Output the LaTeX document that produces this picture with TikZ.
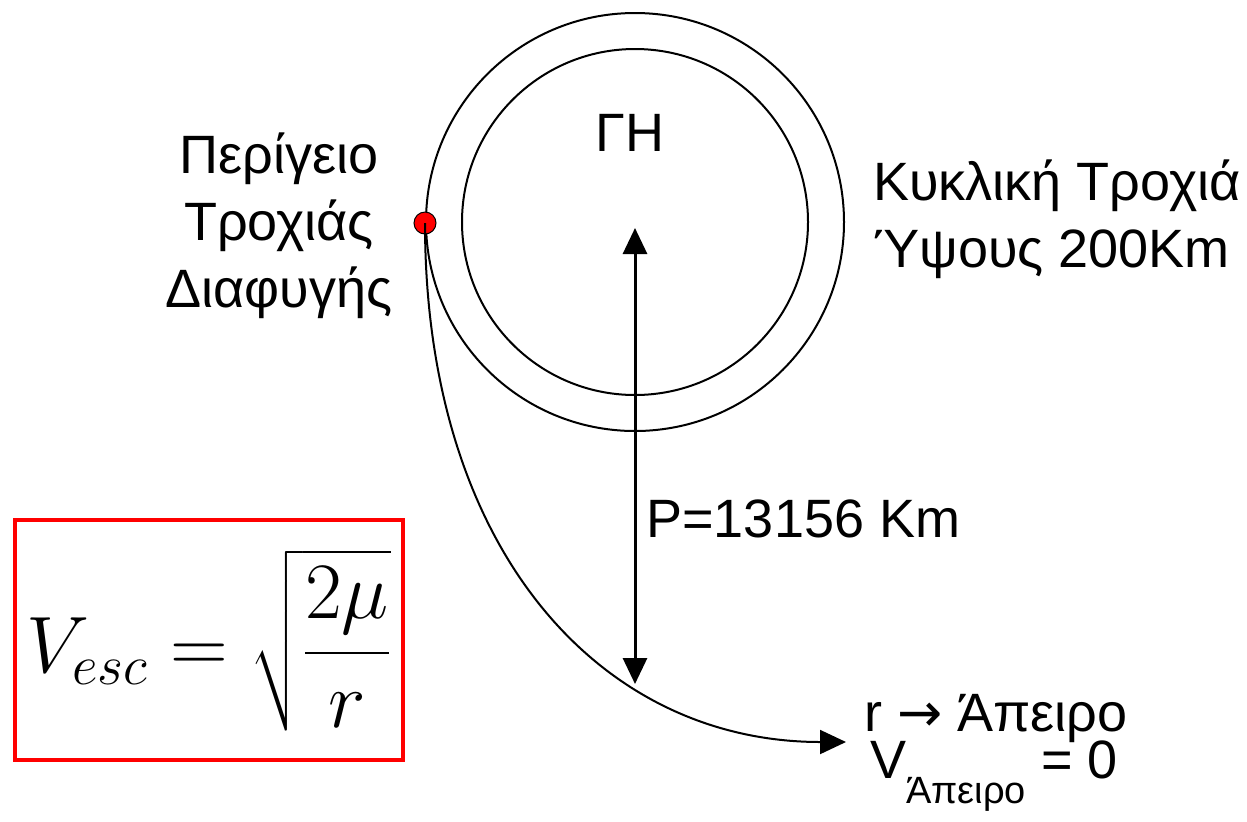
\documentclass[tikz,border=0pt]{standalone}
\usepackage{fix-cm}
\usepackage{fontspec}
\setmainfont{Liberation Sans}
\newfontfamily\arrowfont{DejaVu Sans}
\usepackage{amsmath}
\usepackage{tikz}
\usetikzlibrary{arrows.meta, positioning}

\begin{document}
\begin{tikzpicture}[
    x=0.5pt, y=-0.5pt,
    every node/.style={font=\fontsize{27}{33.5}\selectfont},
    orbit/.style={circle, draw=black, line width=1pt, inner sep=0pt},
    perigee/.style={circle, draw=black, fill=red, line width=0.5pt, minimum size=11pt, inner sep=0pt},
    label/.style={align=center, inner sep=0pt},
    formulabox/.style={rectangle, draw=red, line width=2pt, minimum width=194pt, minimum height=120pt},
    arrow/.style={-{Triangle[length=13pt, width=12pt]}, line width=1pt},
    dblarrow/.style={{Triangle[length=13pt, width=12pt]}-{Triangle[length=13pt, width=12pt]}, line width=1.5pt}
]
\useasboundingbox (0,0) rectangle (1247,821);

% orbits round the earth
\node (earth) [orbit, minimum size=173pt] at (635,222) {};
\node (circorbit) [orbit, minimum size=209pt] at (635,222) {};
\node (peri) [perigee] at (425,223) {};

\node (gh) [label] at (630,133) {ΓΗ};
\node (perilabel) [label] at (279,226) {Περίγειο\\Τροχιάς\\Διαφυγής};
\node (orbitlabel) [label, align=left, anchor=west] at (873,219) {Κυκλική Τροχιά\\Ύψους 200Km};

% escape path
\coordinate (centre) at (635,228);
\coordinate (cross) at (635,684);
\coordinate (far) at (846,742);
\draw [arrow] (peri.center) .. controls (425,550) and (600,742) .. (far);
\draw [dblarrow] (centre) -- (cross);
\node (plabel) [label, anchor=west] at (646,519) {P=13156 Km};

\node (rinf) [label] at (996,718) {r {\arrowfont →} Άπειρο};
\node (vinf) [label] at (994,776) {V\raisebox{-0.45em}{\fontsize{19}{22}\selectfont Άπειρο} = 0};

% formula
\node (formula) [formulabox] at (209,640) {\fontsize{40}{48}\selectfont $\displaystyle V_{esc}=\sqrt{\frac{2\mu}{r}}$};
\end{tikzpicture}
\end{document}
